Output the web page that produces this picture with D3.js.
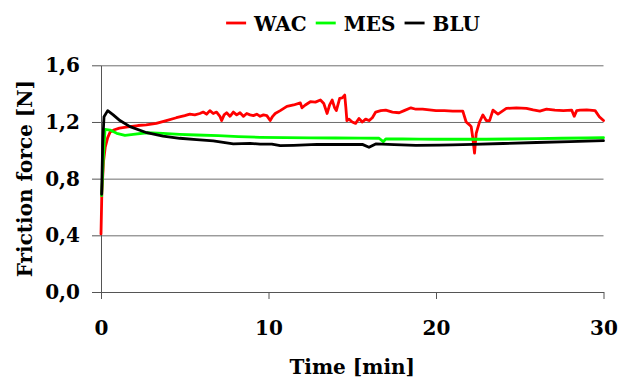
<!DOCTYPE html>
<html>
<head>
<meta charset="utf-8">
<script src="https://cdn.jsdelivr.net/npm/d3@7"></script>
<style>
  html, body { margin: 0; padding: 0; background: #fff; }
  svg { display: block; }
  text { font-family: "DejaVu Serif", "Liberation Serif", serif; font-weight: bold; fill: #000; }
</style>
</head>
<body>
<svg id="chart" width="619" height="380"></svg>
<script>
// ---- data ----
const seriesNames = ["WAC", "MES", "BLU"];
const seriesColors = ["#ff0000", "#00ff00", "#000000"];

const timeWAC = [0, 0.05, 0.15, 0.25, 0.4, 0.55, 0.8, 1.1, 1.6, 2.2, 2.7, 3.3, 3.9, 4.5, 5.0, 5.3, 5.6, 5.9, 6.1, 6.3, 6.5, 6.7, 6.9, 7.1, 7.2, 7.35, 7.5, 7.7, 7.9, 8.1, 8.3, 8.5, 8.7, 8.9, 9.1, 9.3, 9.5, 9.7, 9.9, 10.1, 10.25, 10.4, 10.7, 11.1, 11.5, 11.9, 12.0, 12.2, 12.5, 12.8, 13.1, 13.3, 13.5, 13.65, 13.8, 13.95, 14.05, 14.25, 14.4, 14.55, 14.62, 14.68, 14.8, 15.0, 15.2, 15.4, 15.6, 15.8, 16.0, 16.2, 16.4, 16.7, 17.0, 17.4, 17.8, 18.1, 18.5, 18.8, 19.2, 19.6, 20.0, 20.5, 21.0, 21.6, 21.8, 22.0, 22.1, 22.2, 22.3, 22.4, 22.6, 22.8, 23.0, 23.2, 23.4, 23.7, 24.2, 24.8, 25.4, 25.8, 26.2, 26.6, 27.1, 27.6, 28.1, 28.25, 28.4, 28.6, 29.0, 29.5, 29.75, 30];
const valWAC = [0.41, 0.7, 0.92, 1.02, 1.09, 1.13, 1.145, 1.157, 1.165, 1.175, 1.18, 1.19, 1.21, 1.23, 1.245, 1.256, 1.25, 1.26, 1.27, 1.255, 1.28, 1.26, 1.27, 1.24, 1.21, 1.25, 1.265, 1.24, 1.27, 1.25, 1.265, 1.24, 1.26, 1.25, 1.245, 1.255, 1.24, 1.25, 1.245, 1.21, 1.24, 1.26, 1.28, 1.31, 1.32, 1.335, 1.30, 1.32, 1.343, 1.34, 1.355, 1.33, 1.26, 1.32, 1.355, 1.30, 1.28, 1.367, 1.37, 1.39, 1.30, 1.21, 1.22, 1.20, 1.19, 1.225, 1.20, 1.22, 1.21, 1.23, 1.27, 1.28, 1.284, 1.27, 1.265, 1.28, 1.30, 1.29, 1.29, 1.285, 1.28, 1.28, 1.277, 1.277, 1.20, 1.18, 1.167, 1.085, 0.98, 1.12, 1.20, 1.25, 1.21, 1.21, 1.284, 1.256, 1.296, 1.30, 1.296, 1.285, 1.277, 1.29, 1.283, 1.28, 1.284, 1.24, 1.28, 1.284, 1.285, 1.28, 1.237, 1.21];

const timeMES = [0.04, 0.12, 0.24, 0.54, 0.94, 1.43, 1.93, 2.73, 3.7, 4.7, 5.7, 7.0, 8.2, 9.5, 11.0, 12.5, 14.0, 15.5, 16.6, 16.85, 17.0, 18.0, 19.0, 20.0, 21.0, 22.0, 23.0, 24.5, 26.0, 27.5, 29.0, 30];
const valMES = [0.68, 0.9, 1.148, 1.143, 1.12, 1.106, 1.113, 1.124, 1.12, 1.113, 1.108, 1.103, 1.097, 1.092, 1.09, 1.088, 1.087, 1.086, 1.085, 1.061, 1.08, 1.08, 1.079, 1.078, 1.078, 1.078, 1.078, 1.08, 1.082, 1.085, 1.087, 1.089];

const timeBLU = [0.04, 0.1, 0.18, 0.4, 0.73, 1.13, 1.73, 2.73, 3.7, 4.7, 5.7, 6.7, 7.9, 8.9, 9.5, 10.2, 10.7, 11.5, 12.9, 14.3, 15.6, 16.0, 16.4, 17.5, 18.8, 20.2, 21.0, 22.2, 24.0, 26.0, 28.0, 30];
const valBLU = [0.69, 1.05, 1.237, 1.28, 1.25, 1.21, 1.167, 1.124, 1.10, 1.085, 1.075, 1.066, 1.046, 1.049, 1.044, 1.044, 1.033, 1.035, 1.042, 1.041, 1.042, 1.021, 1.045, 1.04, 1.035, 1.037, 1.038, 1.042, 1.048, 1.055, 1.062, 1.068];

const xTicks = [0, 10, 20, 30];
const yTicks = [0, 0.4, 0.8, 1.2, 1.6];
const xTitle = "Time [min]";
const yTitle = "Friction force [N]";

// ---- chart ----
const svg = d3.select("#chart");
svg.append("rect").attr("width", 619).attr("height", 380).attr("fill", "#fff");

const x = d3.scaleLinear().domain([0, 30]).range([101, 603.5]);
const y = d3.scaleLinear().domain([0, 1.6]).range([292, 65.3]);
const fmtY = v => d3.format(".1f")(v).replace(".", ",");
const FS = 20;

// gridlines
svg.append("g")
  .attr("transform", `translate(${x.range()[0]},0)`)
  .call(d3.axisLeft(y).tickValues(yTicks.filter(v => v > 0)).tickSize(-(x.range()[1] - x.range()[0])).tickFormat(""))
  .call(g => g.select(".domain").remove())
  .call(g => g.selectAll("line").attr("stroke", "#6e6e6e").attr("stroke-width", 1));

// y axis
const gy = svg.append("g")
  .attr("transform", `translate(${x.range()[0]},0)`)
  .call(d3.axisLeft(y).tickValues(yTicks).tickSize(9).tickSizeOuter(0).tickPadding(12).tickFormat(fmtY));
gy.select(".domain").attr("stroke", "#555");
gy.selectAll("line").attr("stroke", "#555");
gy.selectAll("text").attr("font-size", FS).attr("font-family", "DejaVu Serif").attr("font-weight", "bold");

// x axis
const gx = svg.append("g")
  .attr("transform", `translate(0,${y(0)})`)
  .call(d3.axisBottom(x).tickValues(xTicks).tickSize(7).tickSizeOuter(0).tickFormat(d3.format("d")));
gx.select(".domain").attr("stroke", "#555");
gx.selectAll("line").attr("stroke", "#555");
gx.selectAll("text").attr("font-size", FS).attr("font-family", "DejaVu Serif").attr("font-weight", "bold")
  .attr("y", 36).attr("dy", "0.36em");

// lines
const line = d3.line().x(d => x(d[0])).y(d => y(d[1]));
const series = [
  { name: seriesNames[0], color: seriesColors[0], pts: d3.zip(timeWAC, valWAC) },
  { name: seriesNames[1], color: seriesColors[1], pts: d3.zip(timeMES, valMES) },
  { name: seriesNames[2], color: seriesColors[2], pts: d3.zip(timeBLU, valBLU) }
];
svg.append("g").selectAll("path").data(series).join("path")
  .attr("d", d => line(d.pts))
  .attr("fill", "none")
  .attr("stroke", d => d.color)
  .attr("stroke-width", 2.8)
  .attr("stroke-linejoin", "round")
  .attr("stroke-linecap", "round");

// axis titles
svg.append("text")
  .attr("x", (x.range()[0] + x.range()[1]) / 2).attr("y", 374)
  .attr("text-anchor", "middle").attr("font-size", FS).text(xTitle);
svg.append("text")
  .attr("transform", `translate(32,${(y.range()[0] + y.range()[1]) / 2}) rotate(-90)`)
  .attr("text-anchor", "middle").attr("font-size", FS).text(yTitle);

// legend
const leg = svg.append("g");
let cx = 0;
series.forEach((s, i) => {
  const g = leg.append("g");
  g.append("line").attr("x1", cx).attr("x2", cx + 20).attr("y1", 23).attr("y2", 23)
    .attr("stroke", s.color).attr("stroke-width", 2.8);
  const t = g.append("text").attr("x", cx + 28).attr("y", 30.5).attr("font-size", FS).text(s.name);
  cx += 28 + t.node().getComputedTextLength() + 9;
});
const legW = cx - 9;
leg.attr("transform", `translate(${353 - legW / 2},0)`);
</script>
</body>
</html>
